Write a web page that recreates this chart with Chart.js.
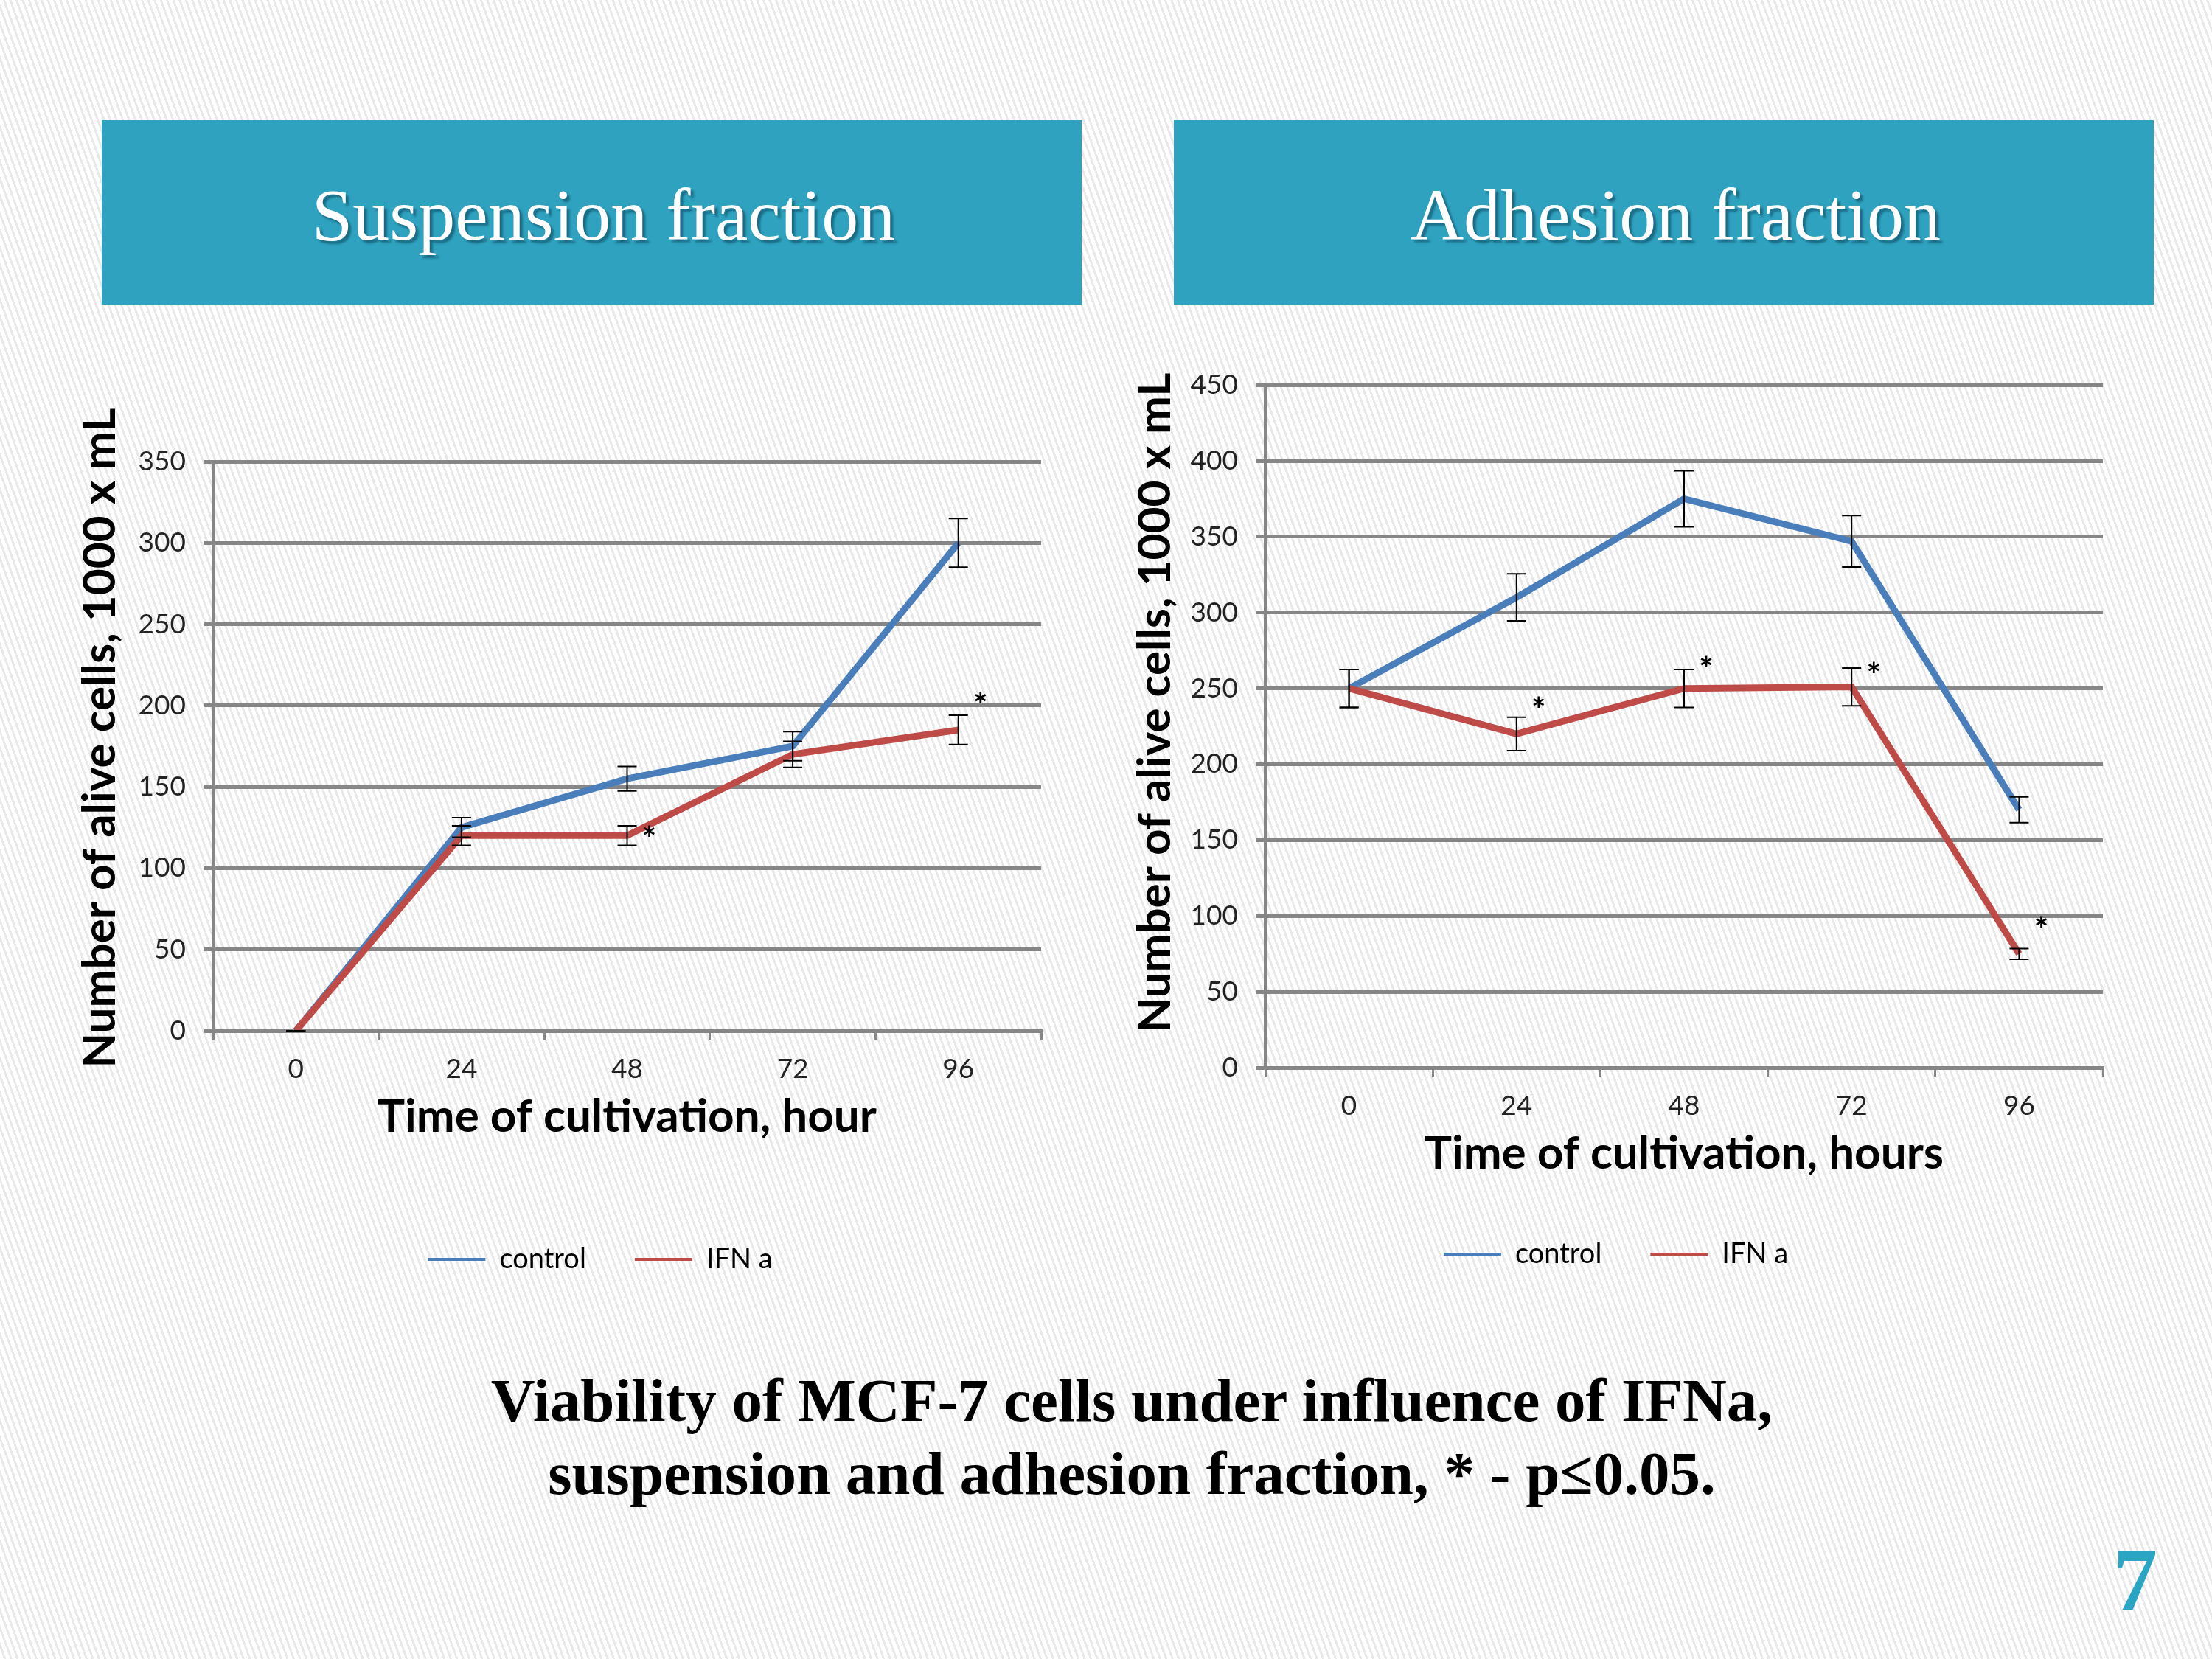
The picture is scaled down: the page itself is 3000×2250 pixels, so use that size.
<!DOCTYPE html>
<html>
<head>
<meta charset="utf-8">
<script src="https://cdn.jsdelivr.net/npm/chart.js@4.4.1/dist/chart.umd.min.js"></script>
<style>
  html, body { margin: 0; padding: 0; }
  body {
    width: 3000px; height: 2250px; position: relative; overflow: hidden;
    background-color: #fff;
    background-image: repeating-linear-gradient(70deg, #fff 0px, #fff 5px, #e9e9e9 5px, #e9e9e9 8px);
  }
  .head {
    position: absolute; top: 163px; height: 250px; width: 1329px;
    background: #2ea2bf; color: #fff;
    font-family: "Liberation Serif", "Times New Roman", serif; font-size: 100px;
    line-height: 258px; text-align: center; box-sizing: border-box; padding-left: 32px;
    text-shadow: 4px 4px 3px rgba(0, 40, 60, 0.45);
  }
  .box { position: absolute; }
  .caption {
    position: absolute; left: 35px; width: 3000px; top: 1850px;
    font-family: "Liberation Serif", "Times New Roman", serif; font-weight: bold;
    font-size: 83px; line-height: 99px; text-align: center; color: #000;
  }
  .pagenum {
    position: absolute; left: 2866px; top: 2074px;
    font-family: "Liberation Serif", "Times New Roman", serif; font-weight: bold;
    font-size: 120px; color: #2aa6c4;
  }
</style>
</head>
<body>
<div class="head" style="left:138px">Suspension fraction</div>
<div class="head" style="left:1592px">Adhesion fraction</div>

<div class="box" style="left:100px; top:531px; width:1332px; height:1206px;"><canvas id="susp"></canvas></div>
<div class="box" style="left:1531px; top:475px; width:1341px; height:1255px;"><canvas id="adh"></canvas></div>

<div class="caption">Viability of MCF-7 cells under influence of IFNa,<br>suspension and adhesion fraction, * - p≤0.05.</div>
<div class="pagenum">7</div>

<script>
// time points, hours
const hours = ['0', '24', '48', '72', '96'];
const seriesNames = ['control', 'IFN a'];
const yTitleText = 'Number of alive cells, 1000 x mL';

// suspension fraction
const suspControl = [0, 125, 155, 175, 300];
const suspControlErr = [0, 6, 7.5, 9, 15];
const suspIfn = [0, 120, 120, 170, 185];
const suspIfnErr = [0, 6, 6, 8, 9];
const suspStars = [null, null, 122, null, 204];

// adhesion fraction
const adhControl = [250, 310, 375, 347, 170];
const adhControlErr = [12.5, 15.5, 18.5, 17, 8.5];
const adhIfn = [250, 220, 250, 251, 75];
const adhIfnErr = [12.5, 11, 12.5, 12.5, 3.5];
const adhStars = [null, 240, 267, 263, 95];

const blue = '#4a7ebb';
const red = '#be4b48';
const gridGrey = '#868686';

// error bars + significance stars, from dataset.errors / dataset.stars
const errorBars = {
  id: 'errorBars',
  afterDatasetsDraw(chart) {
    const ctx = chart.ctx, y = chart.scales.y;
    ctx.save();
    ctx.strokeStyle = '#000';
    ctx.lineWidth = 2;
    chart.data.datasets.forEach((ds, di) => {
      const meta = chart.getDatasetMeta(di);
      (ds.errors || []).forEach((e, i) => {
        if (e == null) return;
        const x = meta.data[i].x;
        const top = y.getPixelForValue(ds.data[i] + e);
        const bot = y.getPixelForValue(ds.data[i] - e);
        ctx.beginPath();
        ctx.moveTo(x, top); ctx.lineTo(x, bot);
        ctx.moveTo(x - 13, top); ctx.lineTo(x + 13, top);
        ctx.moveTo(x - 13, bot); ctx.lineTo(x + 13, bot);
        ctx.stroke();
      });
      ctx.fillStyle = '#000';
      ctx.font = 'bold 46px Lato';
      ctx.textAlign = 'center';
      ctx.textBaseline = 'middle';
      (ds.stars || []).forEach((s, i) => {
        if (s == null) return;
        ctx.fillText('*', meta.data[i].x + 30, y.getPixelForValue(s) + 10);
      });
    });
    ctx.restore();
  }
};

// nudges the legend sideways without touching the plot area
const legendShift = {
  id: 'legendShift',
  afterLayout(chart, args, opts) {
    if (chart.legend && opts.dx) {
      chart.legend.left += opts.dx;
      chart.legend.right += opts.dx;
    }
  }
};

// y title drawn by hand: the built-in one gets squeezed to the plot height
const yTitle = {
  id: 'yTitle',
  afterDraw(chart, args, opts) {
    const {ctx, chartArea} = chart;
    ctx.save();
    ctx.translate(opts.x, (chartArea.top + chartArea.bottom) / 2 + opts.dy);
    ctx.rotate(-Math.PI / 2);
    ctx.font = 'bold 62px Lato';
    ctx.fillStyle = '#000';
    ctx.textAlign = 'center';
    ctx.textBaseline = 'middle';
    ctx.fillText(opts.text, 0, 0);
    ctx.restore();
  }
};

function makeChart(id, ctrl, ctrlErr, ifn, ifnErr, stars, yMax, xTitle, yWidth, xHeight, titlePad, legendDx, titleDy, padTop) {
  return new Chart(document.getElementById(id), {
    type: 'line',
    data: {
      labels: hours,
      datasets: [
        { label: seriesNames[0], data: ctrl, errors: ctrlErr, borderColor: blue, backgroundColor: blue, order: 1 },
        { label: seriesNames[1], data: ifn, errors: ifnErr, stars: stars, borderColor: red, backgroundColor: red, order: 0 }
      ]
    },
    options: {
      responsive: true,
      maintainAspectRatio: false,
      animation: false,
      devicePixelRatio: 1,
      layout: { padding: { top: padTop, right: 20, left: 0, bottom: 0 } },
      elements: {
        line: { borderWidth: 9, tension: 0 },
        point: { radius: 0, hoverRadius: 0 }
      },
      plugins: {
        tooltip: { enabled: false },
        legendShift: { dx: legendDx },
        yTitle: { text: yTitleText, x: 36, dy: titleDy },
        legend: {
          position: 'bottom',
          labels: {
            font: { family: 'Lato', size: 38 },
            color: '#000',
            usePointStyle: true,
            pointStyleWidth: 78,
            padding: 66,
            generateLabels: (chart) => chart.data.datasets.map((ds, i) => ({
              text: ds.label,
              strokeStyle: ds.borderColor,
              fillStyle: ds.borderColor,
              lineWidth: 4,
              pointStyle: 'line',
              datasetIndex: i,
              hidden: false
            }))
          }
        }
      },
      scales: {
        x: {
          offset: true,
          grid: { offset: true, drawOnChartArea: false, drawTicks: true, tickLength: 12, color: gridGrey, lineWidth: 3 },
          border: { color: gridGrey, width: 5 },
          ticks: { font: { family: 'Lato', size: 37 }, color: '#222', padding: 18 },
          title: {
            display: true, text: xTitle, color: '#000',
            font: { family: 'Lato', size: 62, weight: 'bold' },
            padding: { top: 0, bottom: titlePad }
          },
          afterFit: (s) => { s.height = xHeight; }
        },
        y: {
          min: 0, max: yMax,
          ticks: { stepSize: 50, font: { family: 'Lato', size: 37 }, color: '#222', padding: 25 },
          grid: { color: gridGrey, lineWidth: 5, tickLength: 12 },
          border: { color: gridGrey, width: 5 },
          afterFit: (s) => { s.width = yWidth; }
        }
      }
    },
    plugins: [errorBars, legendShift, yTitle]
  });
}

makeChart('susp', suspControl, suspControlErr, suspIfn, suspIfnErr, suspStars, 350,
  'Time of cultivation, hour', 189, 225, 71, 58, -11, 95);
makeChart('adh', adhControl, adhControlErr, adhIfn, adhIfnErr, adhStars, 450,
  'Time of cultivation, hours', 185, 168, 14, 0, -32, 40);
</script>
</body>
</html>
